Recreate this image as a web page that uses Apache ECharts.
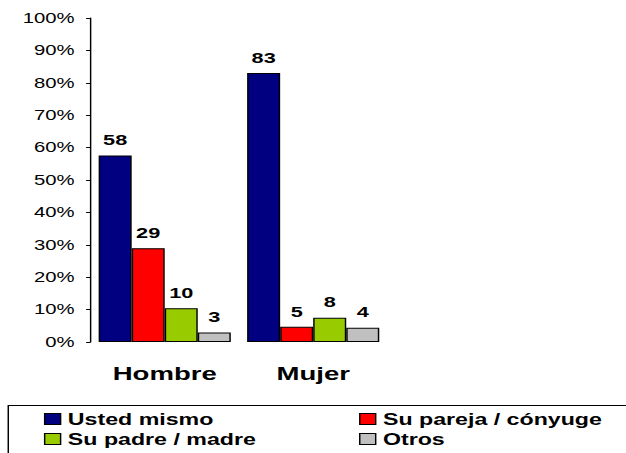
<!DOCTYPE html>
<html>
<head>
<meta charset="utf-8">
<script src="https://cdn.jsdelivr.net/npm/echarts@6/dist/echarts.min.js"></script>
<style>
  html, body { margin: 0; padding: 0; background: #fff; overflow: hidden; }
  #chart { height: 453px; transform-origin: 0 0; }
</style>
</head>
<body>
<div id="chart"></div>
<script>
var categories = ['Hombre', 'Mujer']
var seriesNames = ['Usted mismo', 'Su pareja / cónyuge', 'Su padre / madre', 'Otros']
var ustedMismo = [57.6, 83.0]
var suPareja = [28.9, 4.7]
var suPadre = [10.4, 7.5]
var otros = [2.9, 4.4]
var colors = ['#000080', '#ff0000', '#99cc00', '#c0c0c0']

// the original picture is stretched sideways, so draw narrow and widen it
var stretch = 1.45
var el = document.getElementById('chart')
el.style.width = (626 / stretch) + 'px'
el.style.transform = 'scaleX(' + stretch + ')'

var font = 'Liberation Sans, Arial, sans-serif'
var chart = echarts.init(el, null, { renderer: 'svg' })

function bar (name, data, color) {
  return {
    name: name,
    type: 'bar',
    data: data,
    barGap: '0%',
    barCategoryGap: '11%',
    itemStyle: { color: color, borderColor: '#000', borderWidth: 1 },
    label: {
      show: true,
      position: 'top',
      distance: 8,
      color: '#000',
      fontFamily: font,
      fontWeight: 'bold',
      fontSize: 15,
      formatter: function (p) { return Math.round(p.value) }
    },
    animation: false
  }
}

function legendItem (name, left, top) {
  return {
    data: [name],
    left: left,
    top: top,
    itemWidth: 11,
    itemHeight: 11,
    icon: 'rect',
    itemGap: 0,
    padding: 0,
    selectedMode: false,
    itemStyle: { borderColor: '#000', borderWidth: 1 },
    textStyle: { fontFamily: font, fontWeight: 'bold', fontSize: 16, color: '#000' }
  }
}

var option = {
  color: colors,
  grid: { left: 62.4, right: 164.8, top: 18, bottom: 111 },
  xAxis: {
    type: 'category',
    data: categories,
    axisLine: { show: false },
    axisTick: { show: false },
    axisLabel: {
      margin: 22,
      color: '#000',
      fontFamily: font,
      fontWeight: 'bold',
      fontSize: 19
    }
  },
  yAxis: {
    type: 'value',
    min: 0,
    max: 100,
    interval: 10,
    splitLine: { show: false },
    axisLine: { show: true, lineStyle: { color: '#000', width: 1 } },
    axisTick: { show: true, length: 3, lineStyle: { color: '#000' } },
    axisLabel: {
      margin: 11,
      color: '#000',
      fontFamily: font,
      fontSize: 14,
      formatter: '{value}%'
    }
  },
  legend: [
    legendItem(seriesNames[0], 30.3, 411),
    legendItem(seriesNames[1], 247.6, 411),
    legendItem(seriesNames[2], 30.3, 431),
    legendItem(seriesNames[3], 247.6, 431)
  ],
  graphic: [{
    type: 'rect',
    shape: { x: 5.7, y: 405.5, width: 460, height: 60 },
    style: { fill: 'none', stroke: '#000', lineWidth: 1 },
    silent: true
  }],
  series: [
    bar(seriesNames[0], ustedMismo, colors[0]),
    bar(seriesNames[1], suPareja, colors[1]),
    bar(seriesNames[2], suPadre, colors[2]),
    bar(seriesNames[3], otros, colors[3])
  ]
}

chart.setOption(option)
</script>
</body>
</html>
